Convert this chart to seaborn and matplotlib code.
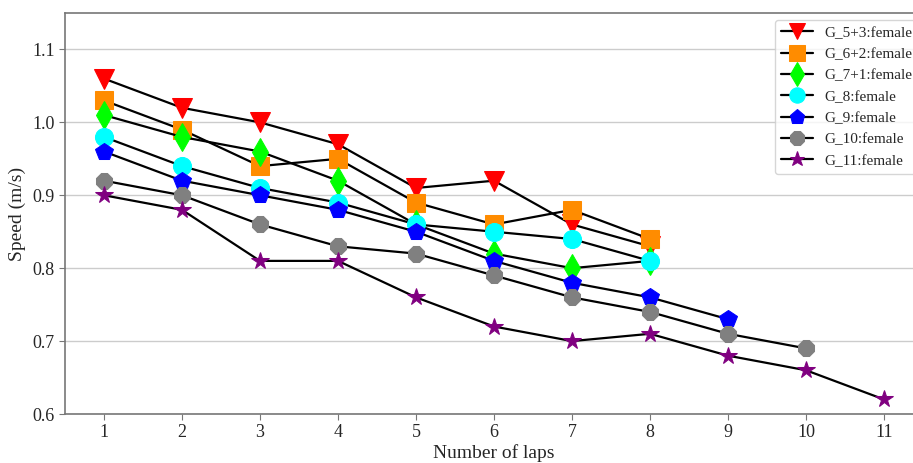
import pandas as pd
import matplotlib
matplotlib.use("Agg")
import matplotlib.pyplot as plt
import seaborn as sns

laps = [1, 2, 3, 4, 5, 6, 7, 8, 9, 10, 11]

g53 = [1.06, 1.02, 1.00, 0.97, 0.91, 0.92, 0.86, 0.83]
g62 = [1.03, 0.99, 0.94, 0.95, 0.89, 0.86, 0.88, 0.84]
g71 = [1.01, 0.98, 0.96, 0.92, 0.86, 0.82, 0.80, 0.81]
g8 = [0.98, 0.94, 0.91, 0.89, 0.86, 0.85, 0.84, 0.81]
g9 = [0.96, 0.92, 0.90, 0.88, 0.85, 0.81, 0.78, 0.76, 0.73]
g10 = [0.92, 0.90, 0.86, 0.83, 0.82, 0.79, 0.76, 0.74, 0.71, 0.69]
g11 = [0.90, 0.88, 0.81, 0.81, 0.76, 0.72, 0.70, 0.71, 0.68, 0.66, 0.62]

names = ["G_5+3:female", "G_6+2:female", "G_7+1:female", "G_8:female",
         "G_9:female", "G_10:female", "G_11:female"]
series = [g53, g62, g71, g8, g9, g10, g11]
colors = ["red", "darkorange", "lime", "cyan", "blue", "gray", "purple"]
markers = ["v", "s", "d", "o", "p", "8", "*"]
sizes = [14, 13, 14, 13, 13, 13, 13]

sns.set_style("white")
plt.rcParams['font.family'] = ['Liberation Serif', 'DejaVu Serif']

fig = plt.figure(figsize=(9.13, 4.63), dpi=100)
ax = fig.add_axes([65 / 913, 49 / 463, 858 / 913, 401 / 463])

for name, vals, c, m, s in zip(names, series, colors, markers, sizes):
    df = pd.DataFrame({"lap": laps[:len(vals)], "speed": vals})
    sns.lineplot(data=df, x="lap", y="speed", ax=ax, color="black", lw=1.6,
                 marker=m, markersize=s, markerfacecolor=c, markeredgecolor=c,
                 label=name)

ax.set_xlim(0.5, 11.5)
ax.set_ylim(0.6, 1.15)
ax.set_xticks(laps)
ax.set_yticks([0.6, 0.7, 0.8, 0.9, 1.0, 1.1])
ax.yaxis.grid(True, color="#cccccc", lw=1)
ax.xaxis.grid(False)
ax.tick_params(axis="both", labelsize=13, direction="out", length=4,
               color="#777777", left=True, bottom=True)
for sp in ax.spines.values():
    sp.set_color("#777777")
    sp.set_linewidth(1.2)
ax.set_xlabel("Number of laps", fontsize=14, labelpad=2)
ax.set_ylabel("Speed (m/s)", fontsize=14)
ax.legend(loc="upper left", bbox_to_anchor=(775 / 913, 1 - 20 / 463),
          bbox_transform=fig.transFigure, borderaxespad=0, fontsize=11,
          frameon=True, fancybox=True, edgecolor="#cccccc", handlelength=2.1,
          handletextpad=0.7, labelspacing=0.5, borderpad=0.4, markerscale=0.85)

fig.savefig("out.png", dpi=100)
